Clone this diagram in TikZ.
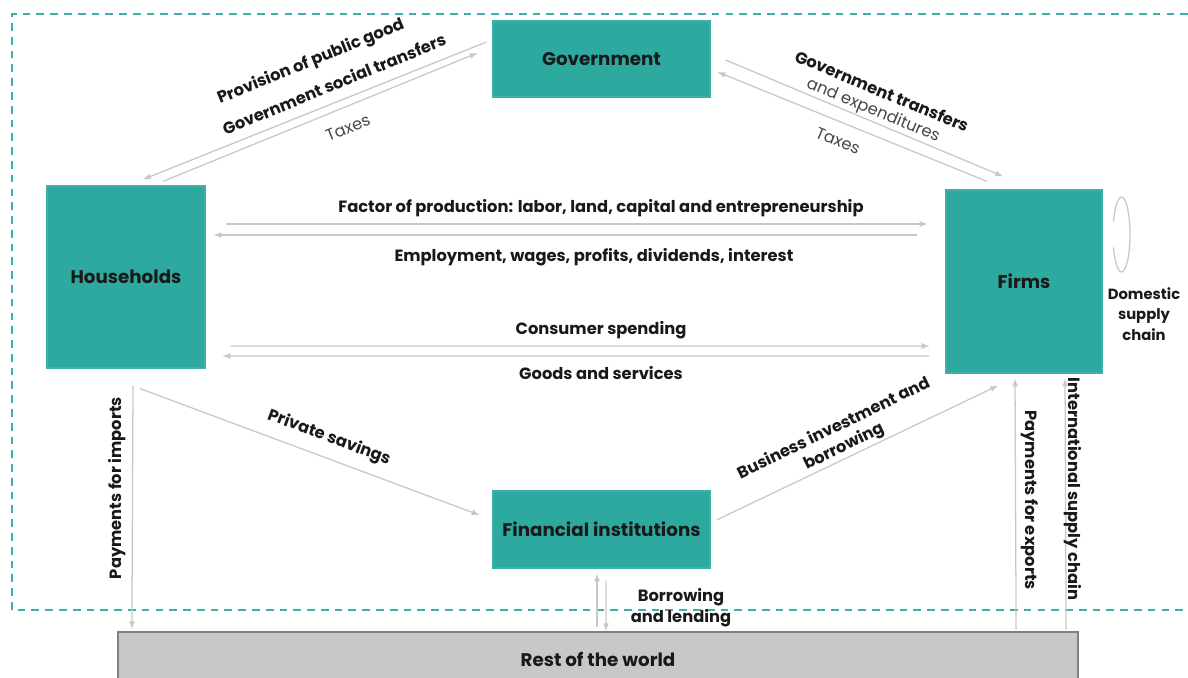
\documentclass[tikz,border=0pt]{standalone}
\usepackage{fontspec}
\setmainfont{Poppins}
\usepackage{tikz}
\usetikzlibrary{positioning, arrows}

\definecolor{teal1}{RGB}{46,169,159}
\definecolor{teal2}{RGB}{62,176,172}
\definecolor{flow}{RGB}{200,200,200}
\definecolor{rowgray}{RGB}{200,200,200}
\definecolor{txt}{RGB}{25,25,25}
\definecolor{txtlight}{RGB}{70,70,70}

\tikzset{
  sector/.style={draw=teal2, fill=teal1, line width=0.8pt, inner sep=0pt,
    font=\fontsize{13}{15}\selectfont\bfseries, text=txt},
  flowarrow/.style={-latex, draw=flow, line width=0.9pt},
  lbl/.style={font=\fontsize{11.6}{15}\selectfont\bfseries, text=txt, inner sep=0pt, align=center},
  lbllight/.style={font=\fontsize{11.6}{15}\selectfont, text=txtlight, inner sep=0pt, align=center}
}

\begin{document}
\begin{tikzpicture}[x=0.025cm, y=-0.025cm]
\useasboundingbox (0,0) rectangle (1188,677);

% sectors
\node[sector, minimum width=5.425cm, minimum height=1.9cm] (gov) at (601.5,59) {Government};
\node[sector, minimum width=3.95cm, minimum height=4.55cm] (hh) at (126,277) {Households};
\node[sector, minimum width=3.9cm, minimum height=4.575cm] (firms) at (1024,281.5) {Firms};
\node[sector, minimum width=5.425cm, minimum height=1.925cm] (fin) at (601.5,529.5) {Financial institutions};
\node[sector, draw=gray, fill=rowgray, line width=1.4pt, minimum width=24cm, minimum height=1.45cm] (row) at (598,661) {};
\node[lbl, font=\fontsize{13}{15}\selectfont\bfseries] (rowtext) at (598,659) {Rest of the world};

% domestic border
\draw[teal2, line width=1.4pt, dash pattern=on 5.5pt off 4.3pt] (1188,14) -- (12,14) -- (12,610) -- (1188,610);

% government flows
\draw[flowarrow] ([shift={(-6,-17)}]gov.west) -- ([shift={(17,-6)}]hh.north);
\draw[flowarrow] ([shift={(37,-4)}]hh.north) -- ([shift={(-15,-6)}]gov.west);
\draw[flowarrow] ([shift={(15,1)}]gov.east) -- ([shift={(-21,-13)}]firms.north);
\draw[flowarrow] ([shift={(-37,-8)}]firms.north) -- ([shift={(7,13)}]gov.east);

% households <-> firms
\draw[flowarrow] ([shift={(20,-53)}]hh.east) -- ([shift={(-18,-57.5)}]firms.west);
\draw[flowarrow] ([shift={(-28,-46.5)}]firms.west) -- ([shift={(8,-42)}]hh.east);
\draw[flowarrow] ([shift={(25,69)}]hh.east) -- ([shift={(-16,64.5)}]firms.west);
\draw[flowarrow] ([shift={(-16,74.5)}]firms.west) -- ([shift={(17,79)}]hh.east);

% financial flows
\draw[flowarrow] ([shift={(14,20)}]hh.south) -- ([shift={(-13,-14.5)}]fin.west);
\draw[flowarrow] ([shift={(6,-9.5)}]fin.east) -- ([shift={(-26,12)}]firms.south);
\draw[flowarrow] ([shift={(-1,-4)}]row.north) -- ([shift={(-4.5,5)}]fin.south);
\draw[flowarrow] ([shift={(4.5,12)}]fin.south) -- ([shift={(8,0)}]row.north);

% rest of the world
\draw[flowarrow] ([shift={(7,17)}]hh.south) -- ([shift={(15,-2)}]row.north west);
\draw[flowarrow] ([shift={(-63,-2)}]row.north east) -- ([shift={(-9,5)}]firms.south);
\draw[flowarrow] ([shift={(-13,-2)}]row.north east) -- ([shift={(41,5)}]firms.south);

% domestic supply chain loop
\draw[flow, line width=0.9pt] (1121.5,234.5) ++(200:8.5 and 37.5) arc[start angle=200, end angle=520, x radius=8.5, y radius=37.5];

% labels
\node[lbl, rotate=22.3] (lprov) at (311,62) {Provision of public good};
\node[lbl, rotate=22.3] (lsoc) at (334,84) {Government social transfers};
\node[lbllight, rotate=22.3] (ltaxl) at (348,128) {Taxes};
\node[lbl, rotate=-22.5] (lgtr) at (882,91) {Government transfers};
\node[lbllight, rotate=-22.5] (lexp) at (873,111) {and expenditures};
\node[lbllight, rotate=-22.5] (ltaxr) at (838,141) {Taxes};
\node[lbl] (lfac) at (601,208) {Factor of production: labor, land, capital and entrepreneurship};
\node[lbl] (lemp) at (594,257) {Employment, wages, profits, dividends, interest};
\node[lbl] (lcons) at (601,330) {Consumer spending};
\node[lbl] (lgood) at (601,373) {Goods and services};
\node[lbl, rotate=-20.5] (lsav) at (329,438) {Private savings};
\node[lbl, rotate=26] (lbus) at (833,427) {Business investment and};
\node[lbl, rotate=26] (lbor) at (844,447) {borrowing};
\node[lbl, rotate=90] (limp) at (117,488) {Payments for imports};
\node[lbl, rotate=-90] (lexpo) at (1030,500) {Payments for exports};
\node[lbl, rotate=-90] (lintl) at (1073,489) {International supply chain};
\node[lbl] (lborr) at (681,608) {Borrowing\\and lending};
\node[lbl, font=\fontsize{10.5}{14.5}\selectfont\bfseries] (ldom) at (1144,314) {Domestic\\supply\\chain};

\end{tikzpicture}
\end{document}
